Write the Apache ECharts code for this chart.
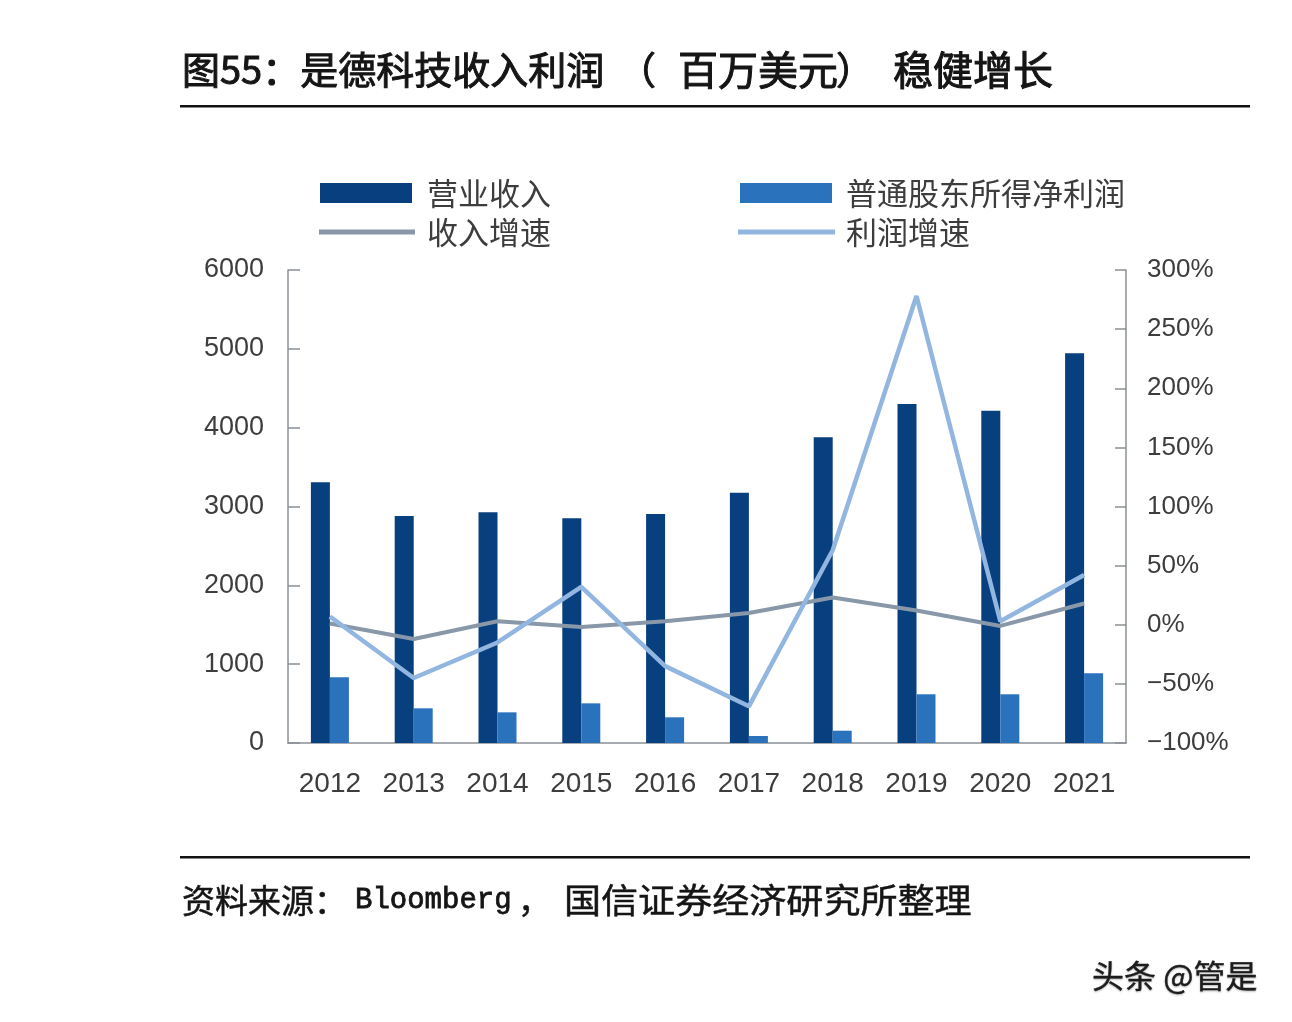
<!DOCTYPE html>
<html>
<head>
<meta charset="utf-8">
<script src="https://cdn.jsdelivr.net/npm/echarts@6/dist/echarts.min.js"></script>
<style>
html,body{margin:0;padding:0;background:#ffffff;}
#chart{width:1292px;height:1022px;}
</style>
</head>
<body>
<div id="chart"></div>
<script>
// ---- data ----
const years = ['2012','2013','2014','2015','2016','2017','2018','2019','2020','2021'];
const revenue = [3307, 2880, 2926, 2850, 2905, 3175, 3878, 4300, 4215, 4943];      // 营业收入 (百万美元)
const netProfit = [833, 440, 389, 503, 326, 89, 156, 618, 618, 884];               // 普通股东所得净利润
const revenueGrowth = [1, -12, 3, -2, 3, 10, 23, 12, -1, 18];                      // 收入增速 (%)
const profitGrowth = [7, -45, -15, 32, -35, -69, 63, 278, 3, 42];                  // 利润增速 (%)
const leftAxisRange = [0, 6000, 1000];
const rightAxisRange = [-100, 300, 50];
const seriesNames = ['营业收入', '普通股东所得净利润', '收入增速', '利润增速'];

const titleParts = ['图55：是德科技收入利润', '（', '百万美元', '）', '稳健增长'];
const sourceParts = ['资料来源：', 'Bloomberg', '，', '国信证券经济研究所整理'];
const watermark = '头条 @管是';

// ---- style ----
const C_REV = '#083f7e';
const C_PROFIT = '#2b72bd';
const C_RGROW = '#8898a9';
const C_PGROW = '#93b6e1';
const AXIS_C = '#8a9097';
const LABEL_C = '#3d3d3d';
const CJK = "'Noto Sans CJK SC', 'Noto Sans', sans-serif";
const LAT = "'Liberation Sans', Arial, sans-serif";
const MONO = "'Liberation Mono', 'DejaVu Sans Mono', monospace";

const chart = echarts.init(document.getElementById('chart'), null, {renderer: 'canvas'});

function legendFor(name, left, top, w, h, padLeft) {
  return {
    data: [name],
    left: left, top: top,
    orient: 'horizontal',
    padding: 0,
    icon: 'rect',
    itemWidth: w, itemHeight: h,
    selectedMode: false,
    textStyle: {fontSize: 31, fontFamily: CJK, color: LABEL_C, lineHeight: 34, padding: [0, 0, 0, padLeft]}
  };
}

function txt(text, x, y, size, family, extra) {
  const style = Object.assign({text: text, fontSize: size, fontFamily: family, fill: '#151515',
    verticalAlign: 'middle', stroke: '#151515', lineWidth: 0.7}, extra || {});
  return {type: 'text', x: x, y: y, style: style};
}

const option = {
  backgroundColor: '#ffffff',
  animation: false,
  legend: [
    legendFor(seriesNames[0], 320, 176, 92, 20, 10),
    legendFor(seriesNames[1], 740, 176, 92, 20, 9),
    legendFor(seriesNames[2], 319, 215, 96, 5, 7),
    legendFor(seriesNames[3], 738, 215, 97, 5, 6)
  ],
  grid: {left: 288, right: 166, top: 270, bottom: 279, containLabel: false, outerBoundsMode: 'none'},
  xAxis: {
    type: 'category',
    data: years,
    axisLine: {show: true, lineStyle: {color: AXIS_C, width: 1.5}},
    axisTick: {show: false},
    axisLabel: {fontSize: 28, fontFamily: LAT, color: LABEL_C, margin: 27},
    splitLine: {show: false}
  },
  yAxis: [
    {
      type: 'value',
      min: leftAxisRange[0], max: leftAxisRange[1], interval: leftAxisRange[2],
      axisLine: {show: true, lineStyle: {color: AXIS_C, width: 1.5}},
      axisTick: {show: true, inside: true, length: 12, lineStyle: {color: AXIS_C, width: 1.5}},
      axisLabel: {fontSize: 27, fontFamily: LAT, color: LABEL_C, margin: 24,
        formatter: function (v) { return String(v); }},
      splitLine: {show: false}
    },
    {
      type: 'value',
      min: rightAxisRange[0], max: rightAxisRange[1], interval: rightAxisRange[2],
      position: 'right',
      axisLine: {show: true, lineStyle: {color: AXIS_C, width: 1.5}},
      axisTick: {show: true, inside: true, length: 11, lineStyle: {color: AXIS_C, width: 1.5}},
      axisLabel: {
        fontSize: 26, fontFamily: LAT, color: LABEL_C, margin: 21,
        formatter: function (v) { return String(v).replace('-', '\u2212') + '%'; }
      },
      splitLine: {show: false}
    }
  ],
  series: [
    {
      name: seriesNames[0], type: 'bar', yAxisIndex: 0, data: revenue,
      barWidth: 19, barGap: '0%',
      itemStyle: {color: C_REV}
    },
    {
      name: seriesNames[1], type: 'bar', yAxisIndex: 0, data: netProfit,
      barWidth: 19, barGap: '0%',
      itemStyle: {color: C_PROFIT}
    },
    {
      name: seriesNames[2], type: 'line', yAxisIndex: 1, data: revenueGrowth,
      symbol: 'none', showSymbol: false, smooth: false,
      lineStyle: {color: C_RGROW, width: 4},
      itemStyle: {color: C_RGROW},
      z: 3
    },
    {
      name: seriesNames[3], type: 'line', yAxisIndex: 1, data: profitGrowth,
      symbol: 'none', showSymbol: false, smooth: false,
      lineStyle: {color: C_PGROW, width: 4.5},
      itemStyle: {color: C_PGROW},
      z: 4
    }
  ],
  graphic: [
    txt(titleParts[0], 182, 70, 38, CJK, {lineWidth: 1}),
    txt(titleParts[1], 618, 70, 38, CJK, {lineWidth: 1}),
    txt(titleParts[2], 678, 70, 40, CJK, {lineWidth: 1}),
    txt(titleParts[3], 836, 70, 38, CJK, {lineWidth: 1}),
    txt(titleParts[4], 893, 70, 40, CJK, {lineWidth: 1}),
    {type: 'rect', shape: {x: 180, y: 105, width: 1070, height: 2.5}, style: {fill: '#111111'}},
    {type: 'rect', shape: {x: 180, y: 856, width: 1070, height: 2.5}, style: {fill: '#111111'}},
    txt(sourceParts[0], 182, 900, 33, CJK, {lineWidth: 0.5}),
    txt(sourceParts[1], 355, 900, 29, MONO, {lineWidth: 0.8}),
    txt(sourceParts[2], 518, 900, 33, CJK, {lineWidth: 0.5}),
    Object.assign(txt(sourceParts[3], 564, 900, 34, CJK, {lineWidth: 0.5}), {scaleX: 1.09}),
    txt(watermark, 1092, 976, 32, CJK, {fill: '#1c1c1c', stroke: '#1c1c1c', lineWidth: 0.4,
      textShadowColor: 'rgba(0,0,0,0.25)', textShadowBlur: 2, textShadowOffsetY: 1})
  ]
};

chart.setOption(option);
</script>
</body>
</html>
